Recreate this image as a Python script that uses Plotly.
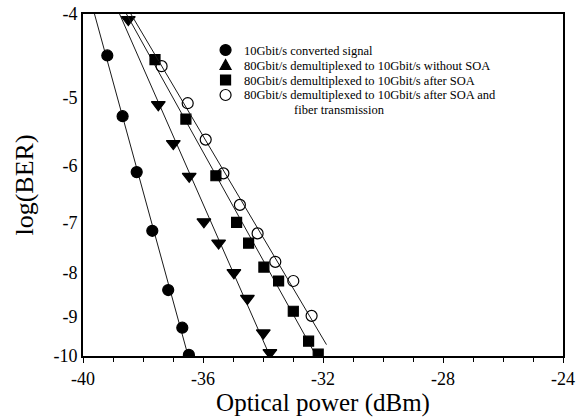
import numpy as np
import plotly.graph_objects as go

# ---- data ----
s1_x = [-39.19, -38.68, -38.21, -37.69, -37.16, -36.69, -36.47]
s1_y = [-4.47, -5.26, -6.11, -7.15, -8.38, -9.27, -9.97]

s2_x = [-38.49, -37.49, -36.99, -36.46, -35.97, -35.48, -34.97, -34.52, -33.99, -33.77]
s2_y = [-4.06, -5.10, -5.66, -6.18, -6.98, -7.39, -8.00, -8.57, -9.40, -9.91]

s3_x = [-37.60, -36.57, -35.57, -34.88, -34.48, -33.97, -33.48, -32.99, -32.48, -32.16]
s3_y = [-4.52, -5.30, -6.17, -6.99, -7.39, -7.88, -8.18, -8.87, -9.61, -9.95]

s4_x = [-37.38, -36.51, -35.91, -35.32, -34.77, -34.18, -33.59, -32.99, -32.38]
s4_y = [-4.60, -5.08, -5.60, -6.13, -6.67, -7.20, -7.77, -8.18, -8.98]

series_names = [
    "10Gbit/s converted signal",
    "80Gbit/s demultiplexed to 10Gbit/s without SOA",
    "80Gbit/s demultiplexed to 10Gbit/s after SOA",
    "80Gbit/s demultiplexed to 10Gbit/s after SOA and",
]
name_continuation = "fiber transmission"
fit_top = [-4, -4, -4, -4]
fit_bottom = [-10, -10, -10, -9.7]

y_tick_vals = [-4, -5, -6, -7, -8, -9, -10]
y_tick_text = ["-4", "-5", "-6", "-7", "-8", "-9", "-10"]
x_tick_vals = [-40, -36, -32, -28, -24]

SERIF = "Liberation Serif, Times New Roman, serif"

fig = go.Figure()

series = [(s1_x, s1_y), (s2_x, s2_y), (s3_x, s3_y), (s4_x, s4_y)]
symbols = ["circle", "triangle-down", "square", "circle-open"]
sizes = [11, 12, 10, 11]

for i, (xs, ys) in enumerate(series):
    # linear fit in the BER-scale (log(-log BER)) space
    t = np.log10(-np.array(ys))
    a, b = np.polyfit(t, np.array(xs), 1)
    tl = np.log10([-fit_top[i], -fit_bottom[i]])
    fig.add_trace(go.Scatter(
        x=a * tl + b, y=10 ** tl, mode="lines",
        line=dict(color="#1a1a1a", width=1), showlegend=False, hoverinfo="skip"))
    fig.add_trace(go.Scatter(
        x=xs, y=[-v for v in ys], mode="markers",
        marker=dict(symbol=symbols[i], size=sizes[i], color="black",
                    line=dict(color="black", width=1.2)),
        name=series_names[i], showlegend=False))

# ---- legend block (key symbols as shapes, labels as one text block) ----
leg_x = 0.297
leg_rows = [0.8947, 0.8509, 0.807, 0.7632]
common = dict(xref="paper", yref="paper", xsizemode="pixel", ysizemode="pixel",
              xanchor=leg_x, line=dict(color="black", width=1.2))
fig.add_shape(type="circle", yanchor=leg_rows[0], x0=-5.5, x1=5.5, y0=-5.5, y1=5.5,
              fillcolor="black", **common)
fig.add_shape(type="path", yanchor=leg_rows[1], path="M -5.5,-4.5 L 5.5,-4.5 L 0,5.5 Z",
              fillcolor="black", **common)
fig.add_shape(type="rect", yanchor=leg_rows[2], x0=-5, x1=5, y0=-5, y1=5,
              fillcolor="black", **common)
fig.add_shape(type="circle", yanchor=leg_rows[3], x0=-5.5, x1=5.5, y0=-5.5, y1=5.5,
              fillcolor="white", **common)

label_lines = [f'<span style="font-size:12.5px">{n}</span>' for n in series_names]
label_lines.append('<span style="font-size:12.5px">' + "\u00a0" * 16 + name_continuation + "</span>")
fig.add_annotation(xref="paper", yref="paper", x=0.331, y=0.917,
                   text="<br>".join(label_lines), showarrow=False, align="left",
                   font=dict(family=SERIF, size=11.4, color="black"),
                   xanchor="left", yanchor="top")

fig.update_layout(
    width=578, height=418,
    margin=dict(l=83, r=15, t=14, b=62, autoexpand=False),
    paper_bgcolor="white", plot_bgcolor="white",
    font=dict(family=SERIF, color="black"),
    showlegend=False,
)
fig.update_xaxes(
    range=[-40, -24], tickvals=x_tick_vals, ticktext=[str(v) for v in x_tick_vals],
    ticks="outside", ticklen=5, tickwidth=1.2, tickcolor="black",
    minor=dict(dtick=1, ticks="outside", ticklen=4, tickcolor="black"),
    showline=True, linecolor="black", linewidth=2, mirror=True,
    showgrid=False, zeroline=False, ticklabelstandoff=0, automargin=False,
    tickfont=dict(family=SERIF, size=18),
    title=dict(text="Optical power (dBm)", font=dict(family=SERIF, size=25), standoff=0),
)
fig.update_yaxes(
    type="log", range=[1, np.log10(4)],
    tickvals=[-v for v in y_tick_vals], ticktext=y_tick_text,
    ticks="", showline=True, linecolor="black", linewidth=2, mirror=True,
    showgrid=False, zeroline=False, automargin=False,
    tickfont=dict(family=SERIF, size=18),
    title=dict(text="log(BER)", font=dict(family=SERIF, size=26), standoff=12),
)

fig.write_html("out.html")
